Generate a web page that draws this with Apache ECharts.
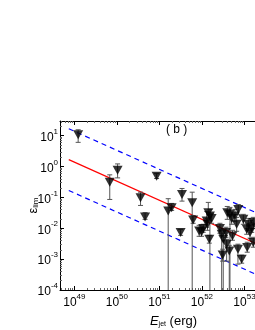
<!DOCTYPE html>
<html>
<head>
<meta charset="utf-8">
<script src="https://cdn.jsdelivr.net/npm/echarts@6/dist/echarts.min.js"></script>
<style>html,body{margin:0;padding:0;background:#fff}#c{width:255px;height:330px}</style>
</head>
<body>
<div id="c"></div>
<script>
// E_jet (erg)
const energy = [1.23e49, 6.8e49, 1.04e50, 8.6e50, 3.6e50, 4.6e50, 1.61e51, 1.94e51, 3.4e51, 3.15e51,
  5.9e51, 6.2e51, 9.8e51, 1.07e52, 1.29e52, 1.41e52, 1.54e52, 1.35e52, 1.49e52, 1.69e52,
  2.65e52, 2.91e52, 3.17e52, 3.81e52, 3.07e52, 4.39e52, 3.94e52, 4.56e52, 5.0e52, 5.97e52,
  6.55e52, 3.67e52, 5.22e52, 7.03e52, 8.6e52, 9.4e52, 1.13e53, 1.23e53, 1.35e53, 1.16e53,
  1.48e53, 1.61e53, 8.6e51, 7.15e52, 1.61e53];
// epsilon_lim
const epsilon = [10.8, 0.312, 0.76, 0.49, 0.098, 0.0232, 0.0361, 0.0466, 0.125, 0.0073,
  0.0675, 0.0185, 0.0076, 0.0098, 0.0172, 0.032, 0.0249, 0.0135, 0.0044, 0.0206,
  0.0098, 0.0064, 0.0044, 0.00305, 0.00135, 0.00185, 0.032, 0.0283, 0.0206, 0.0249,
  0.0135, 0.0073, 0.00565, 0.0021, 0.001, 0.0195, 0.0093, 0.0135, 0.0073, 0.00238,
  0.0105, 0.0153, 0.0082, 0.041, 0.00346];
// error bar upper ends
const errHigh = [15.6, 0.54, 1.22, 0.59, 0.148, 0.032, 0.091, 0.064, 0.195, 0.0093,
  0.148, 0.026, 0.0108, 0.0135, 0.0353, 0.069, 0.041, 0.021, 0.0059, 0.0305,
  0.0145, 0.0093, 0.0069, 0.0044, 0.0021, 0.0028, 0.051, 0.0475, 0.0305, 0.041,
  0.0226, 0.0108, 0.0086, 0.00305, 0.00135, 0.0283, 0.0135, 0.021, 0.0108, 0.00353,
  0.0156, 0.0226, 0.0125, 0.059, 0.0051];
// error bar lower ends (1e-4 = runs to the bottom of the axis)
const errLow = [6.1, 0.086, 0.43, 0.41, 0.055, 0.0195, 1e-4, 0.038, 0.076, 0.0059,
  1e-4, 0.0145, 0.0055, 0.0074, 0.0108, 0.0195, 1e-4, 0.0086, 0.0033, 0.0145,
  0.0069, 1e-4, 1e-4, 0.00086, 0.00086, 1e-4, 0.0195, 1e-4, 0.0135, 0.0168,
  0.008, 0.0051, 0.0041, 0.00069, 0.00074, 0.0135, 0.0064, 0.0086, 0.0048, 0.00168,
  0.0074, 0.01, 0.0055, 0.0283, 0.00244];
// fitted line and its +/- 1 dex bands
const fitE = [7.4e48, 1e54];
const fitMid = [1.68, 1.14e-3];
const fitUpper = [16.8, 1.14e-2];
const fitLower = [0.168, 1.14e-4];
// tick label exponents
const xTickExp = [49, 50, 51, 52, 53, 54];
const yTickExp = [-4, -3, -2, -1, 0, 1];

const X_MIN = 4.6e48, X_MAX = 1e54, Y_MIN = 1e-4, Y_MAX = 30;
const FONT = 'Liberation Sans, Arial, sans-serif';

function powLabel(list) {
  return function (v) {
    const e = Math.round(Math.log10(v));
    if (Math.abs(Math.log10(v) - e) > 1e-6 || list.indexOf(e) < 0) return '';
    return '{b|10}{s|' + e + '}';
  };
}
const richLabel = {
  b: { fontSize: 12, fontFamily: FONT, color: '#000', verticalAlign: 'bottom', lineHeight: 16 },
  s: { fontSize: 8, fontFamily: FONT, color: '#000', verticalAlign: 'top', lineHeight: 16 }
};

const chart = echarts.init(document.getElementById('c'), null, { renderer: 'canvas' });

const scatterData = energy.map((e, i) => [e, epsilon[i]]);
const errData = energy.map((e, i) => [e, errLow[i], errHigh[i]]);

chart.setOption({
  animation: false,
  backgroundColor: '#fff',
  grid: { left: 60, top: 121, bottom: 40, width: 227, containLabel: false, outerBoundsMode: 'none' },
  graphic: [{
    type: 'text', left: 166, top: 124,
    style: { text: '( b )', fontSize: 12, fontFamily: FONT, fill: '#000' }
  }],
  xAxis: [{
    type: 'log', logBase: 10, min: X_MIN, max: X_MAX,
    name: '{i|E}{sub|jet}{n| (erg)}', nameLocation: 'middle', nameGap: 22, nameMoveOverlap: false,
    nameTextStyle: {
      rich: {
        i: { fontSize: 13, fontStyle: 'italic', fontFamily: FONT, color: '#000', verticalAlign: 'bottom', lineHeight: 16 },
        sub: { fontSize: 7, fontFamily: FONT, color: '#000', verticalAlign: 'bottom', lineHeight: 12 },
        n: { fontSize: 13, fontFamily: FONT, color: '#000', verticalAlign: 'bottom', lineHeight: 16 }
      }
    },
    axisLine: { show: true, onZero: false, lineStyle: { color: '#000', width: 1 } },
    axisTick: { show: true, inside: true, length: 4, lineStyle: { color: '#000' } },
    minorTick: { show: true, splitNumber: 9, length: 2, lineStyle: { color: '#666' } },
    axisLabel: { formatter: powLabel(xTickExp), margin: 3, rich: richLabel, showMinLabel: false, showMaxLabel: false },
    splitLine: { show: false }
  }, {
    type: 'log', logBase: 10, min: X_MIN, max: X_MAX, position: 'top',
    axisLine: { show: true, onZero: false, lineStyle: { color: '#000', width: 1 } },
    axisTick: { show: true, inside: true, length: 4, lineStyle: { color: '#000' } },
    minorTick: { show: true, splitNumber: 9, length: 2, lineStyle: { color: '#666' } },
    axisLabel: { show: false },
    splitLine: { show: false }
  }],
  yAxis: [{
    type: 'log', logBase: 10, min: Y_MIN, max: Y_MAX,
    name: '{e|ε}{sub|lim}', nameLocation: 'middle', nameGap: 20, nameRotate: 90, nameMoveOverlap: false,
    nameTextStyle: {
      rich: {
        e: { fontSize: 13, fontFamily: FONT, color: '#000', verticalAlign: 'bottom', lineHeight: 16 },
        sub: { fontSize: 8, fontFamily: FONT, color: '#000', verticalAlign: 'bottom', lineHeight: 12 }
      }
    },
    axisLine: { show: true, onZero: false, lineStyle: { color: '#000', width: 1 } },
    axisTick: { show: true, inside: true, length: 4, lineStyle: { color: '#000' } },
    minorTick: { show: true, splitNumber: 9, length: 2, lineStyle: { color: '#666' } },
    axisLabel: { formatter: powLabel(yTickExp), margin: 2, rich: richLabel, showMaxLabel: false },
    splitLine: { show: false }
  }, {
    type: 'log', logBase: 10, min: Y_MIN, max: Y_MAX, position: 'right',
    axisLine: { show: true, onZero: false, lineStyle: { color: '#000' } },
    axisTick: { show: true, inside: true, length: 4 },
    axisLabel: { show: false },
    splitLine: { show: false }
  }],
  series: [
    {
      type: 'line', data: fitE.map((e, i) => [e, fitUpper[i]]), symbol: 'none',
      lineStyle: { color: '#0000ff', width: 1.2, type: [5, 4] }, z: 1
    },
    {
      type: 'line', data: fitE.map((e, i) => [e, fitLower[i]]), symbol: 'none',
      lineStyle: { color: '#0000ff', width: 1.2, type: [5, 4] }, z: 1
    },
    {
      type: 'line', data: fitE.map((e, i) => [e, fitMid[i]]), symbol: 'none',
      lineStyle: { color: '#ff0000', width: 1.2 }, z: 1
    },
    {
      type: 'custom', data: errData, z: 2, clip: true,
      encode: { x: 0, y: [1, 2] },
      renderItem: function (params, api) {
        const x = api.value(0), lo = api.value(1), hi = api.value(2);
        const pHi = api.coord([x, hi]);
        const pLo = api.coord([x, lo]);
        const cap = 2.5;
        const style = { stroke: '#555', lineWidth: 1 };
        const children = [
          { type: 'line', shape: { x1: pHi[0], y1: pHi[1], x2: pLo[0], y2: pLo[1] }, style: style },
          { type: 'line', shape: { x1: pHi[0] - cap, y1: pHi[1], x2: pHi[0] + cap, y2: pHi[1] }, style: style }
        ];
        if (lo > Y_MIN) {
          children.push({ type: 'line', shape: { x1: pLo[0] - cap, y1: pLo[1], x2: pLo[0] + cap, y2: pLo[1] }, style: style });
        }
        return { type: 'group', children: children };
      }
    },
    {
      type: 'scatter', data: scatterData, symbol: 'triangle', symbolRotate: 180,
      symbolSize: [10, 9], itemStyle: { color: '#000' }, z: 3
    }
  ]
});
</script>
</body>
</html>
